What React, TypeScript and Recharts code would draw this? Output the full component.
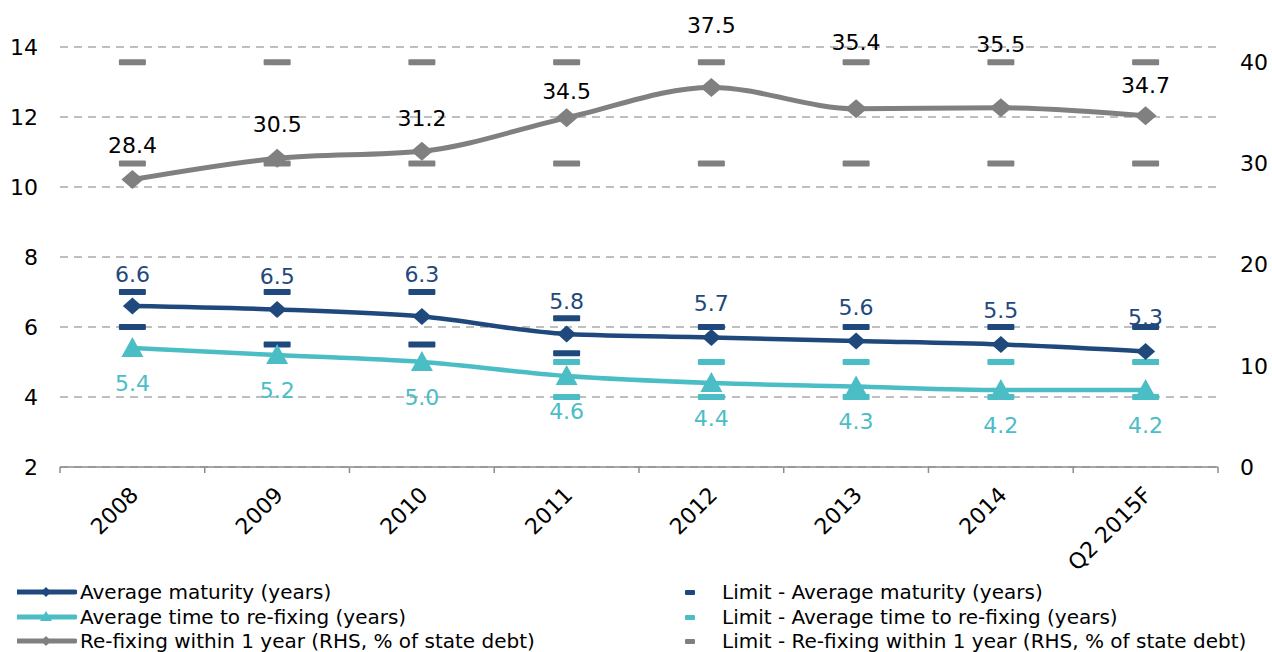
import { ComposedChart, Line, XAxis, YAxis, CartesianGrid, Legend, LabelList } from 'recharts'

const years = ['2008', '2009', '2010', '2011', '2012', '2013', '2014', 'Q2 2015F']
const avgMaturity = [6.6, 6.5, 6.3, 5.8, 5.7, 5.6, 5.5, 5.3]
const avgRefixing = [5.4, 5.2, 5.0, 4.6, 4.4, 4.3, 4.2, 4.2]
const refixWithin1y = [28.4, 30.5, 31.2, 34.5, 37.5, 35.4, 35.5, 34.7]
const maturityLimitA = [7, 7, 7, 6.25, 6, 6, 6, 6]
const maturityLimitB = [6, 5.5, 5.5, 5.25, null, null, null, null]
const refixLimitA = [null, null, null, 5, 5, 5, 5, 5]
const refixLimitB = [null, null, null, 4, 4, 4, 4, 4]
const shortLimitA = [40, 40, 40, 40, 40, 40, 40, 40]
const shortLimitB = [30, 30, 30, 30, 30, 30, 30, 30]
const leftTicks = [2, 4, 6, 8, 10, 12, 14]
const rightTicks = [0, 10, 20, 30, 40]

// label offsets (px), hand-placed like in the source
const maturityLabelDy = [-32, -33, -42, -33, -34, -34, -34, -34]
const refixLabelDy = [35, 35, 35, 35, 35, 35, 35, 35]
const shortLabelDy = [-34, -34, -33, -26, -62, -66, -63, -30]

const DARK = '#1F497D'
const TEAL = '#4BBDC5'
const GRAY = '#808080'
const AXIS = '#8C8C8C'
const FONT = '"DejaVu Sans", Verdana, sans-serif'
const HALF_BAND = 72.4

const data = years.map((year, i) => ({
  year,
  avgMaturity: avgMaturity[i],
  avgRefixing: avgRefixing[i],
  refixWithin1y: refixWithin1y[i],
  maturityLimitA: maturityLimitA[i],
  maturityLimitB: maturityLimitB[i],
  refixLimitA: refixLimitA[i],
  refixLimitB: refixLimitB[i],
  shortLimitA: shortLimitA[i],
  shortLimitB: shortLimitB[i],
}))

const dash = (color: string) => (p: any) => {
  if (p.cx == null || p.cy == null || isNaN(p.cy)) return <g key={p.index} />
  return <rect key={p.index} x={p.cx - 13.5} y={p.cy - 3} width={27} height={6} rx={1} fill={color} />
}

const diamond = (color: string, w: number, h: number) => (p: any) => {
  if (p.cx == null || p.cy == null) return <g key={p.index} />
  const { cx, cy } = p
  return <path key={p.index} d={`M${cx - w} ${cy}L${cx} ${cy - h}L${cx + w} ${cy}L${cx} ${cy + h}Z`} fill={color} />
}

const triangle = (color: string) => (p: any) => {
  if (p.cx == null || p.cy == null) return <g key={p.index} />
  const { cx, cy } = p
  return <path key={p.index} d={`M${cx} ${cy - 11}L${cx + 11} ${cy + 9}L${cx - 11} ${cy + 9}Z`} fill={color} />
}

const pointLabel = (color: string, offsets: number[]) => (p: any) => (
  <text
    key={p.index}
    x={p.x}
    y={p.y + offsets[p.index]}
    fill={color}
    textAnchor="middle"
    dominantBaseline="central"
    fontSize={22}
    fontFamily={FONT}
  >
    {Number(p.value).toFixed(1)}
  </text>
)

const XTick = (p: any) => {
  const { x, y, payload, index } = p
  const ax = x + 2
  const ay = y + 24
  return (
    <g>
      <line x1={x - HALF_BAND} x2={x - HALF_BAND} y1={y} y2={y + 6} stroke={AXIS} strokeWidth={1.5} />
      {index === years.length - 1 && <line x1={x + HALF_BAND} x2={x + HALF_BAND} y1={y} y2={y + 6} stroke={AXIS} strokeWidth={1.5} />}
      <text
        x={ax}
        y={ay}
        transform={`rotate(-45, ${ax}, ${ay})`}
        textAnchor="end"
        dominantBaseline="central"
        fontSize={22}
        fontFamily={FONT}
        fill="#000"
      >
        {payload.value}
      </text>
    </g>
  )
}

const lineItems = [
  { name: 'Average maturity (years)', color: DARK, shape: 'diamond' },
  { name: 'Average time to re-fixing (years)', color: TEAL, shape: 'triangle' },
  { name: 'Re-fixing within 1 year (RHS, % of state debt)', color: GRAY, shape: 'diamond' },
]
const limitItems = [
  { name: 'Limit - Average maturity (years)', color: DARK },
  { name: 'Limit - Average time to re-fixing (years)', color: TEAL },
  { name: 'Limit - Re-fixing within 1 year (RHS, % of state debt)', color: GRAY },
]

function LegendBox() {
  return (
    <div style={{ position: 'relative', width: 1272, height: 74, fontFamily: FONT, fontSize: 20, color: '#000' }}>
      {lineItems.map((it, i) => (
        <div key={it.name} style={{ position: 'absolute', left: 17, top: 2 + i * 24.5, height: 24, display: 'flex', alignItems: 'center', whiteSpace: 'nowrap' }}>
          <svg width={60} height={24}>
            <line x1={0} x2={58} y1={12} y2={12} stroke={it.color} strokeWidth={5} strokeLinecap="round" />
            {it.shape === 'diamond' ? (
              <path d="M24 12L29 7L34 12L29 17Z" fill={it.color} />
            ) : (
              <path d="M29 6L35 16L23 16Z" fill={it.color} />
            )}
          </svg>
          <span style={{ marginLeft: 3 }}>{it.name}</span>
        </div>
      ))}
      {limitItems.map((it, i) => (
        <div key={it.name} style={{ position: 'absolute', left: 685, top: 2 + i * 24.5, height: 24, display: 'flex', alignItems: 'center', whiteSpace: 'nowrap' }}>
          <svg width={37} height={24}>
            <rect x={0} y={10} width={10} height={5} rx={1} fill={it.color} />
          </svg>
          <span>{it.name}</span>
        </div>
      ))}
    </div>
  )
}

export default function App() {
  return (
    <div style={{ width: 1272, height: 652, overflow: 'hidden', background: '#fff' }}>
      <style>{'body{margin:0}'}</style>
      <ComposedChart width={1272} height={652} data={data} margin={{ top: 47, right: 0, bottom: 0, left: 0 }}>
        <CartesianGrid yAxisId="left" vertical={false} horizontal stroke="#BFBFBF" strokeWidth={2} strokeDasharray="8 6" />
        <XAxis
          dataKey="year"
          height={111}
          padding={{ left: HALF_BAND, right: HALF_BAND }}
          tick={<XTick />}
          tickLine={false}
          tickSize={0}
          tickMargin={0}
          interval={0}
          axisLine={{ stroke: AXIS, strokeWidth: 1.5 }}
        />
        <YAxis
          yAxisId="left"
          domain={[2, 14]}
          ticks={leftTicks}
          width={60}
          axisLine={false}
          tickLine={false}
          tickSize={0}
          tickMargin={22}
          tick={{ fontSize: 22, fontFamily: FONT, fill: '#000' }}
          interval={0}
        />
        <YAxis
          yAxisId="right"
          orientation="right"
          domain={[0, 41.5]}
          ticks={rightTicks}
          width={54}
          axisLine={false}
          tickLine={false}
          tickSize={0}
          tickMargin={22}
          tick={{ fontSize: 22, fontFamily: FONT, fill: '#000', textAnchor: 'start' }}
          interval={0}
        />
        <Legend verticalAlign="bottom" content={<LegendBox />} wrapperStyle={{ left: 0, bottom: 0, width: 1272 }} />

        <Line yAxisId="right" dataKey="shortLimitA" name="Limit - Re-fixing within 1 year (RHS, % of state debt)" stroke="none" dot={dash(GRAY)} activeDot={false} isAnimationActive={false} />
        <Line yAxisId="right" dataKey="shortLimitB" name="Limit - Re-fixing within 1 year (RHS, % of state debt) low" stroke="none" dot={dash(GRAY)} activeDot={false} isAnimationActive={false} />
        <Line yAxisId="left" dataKey="maturityLimitA" name="Limit - Average maturity (years)" stroke="none" dot={dash(DARK)} activeDot={false} isAnimationActive={false} />
        <Line yAxisId="left" dataKey="maturityLimitB" name="Limit - Average maturity (years) low" stroke="none" dot={dash(DARK)} activeDot={false} isAnimationActive={false} />
        <Line yAxisId="left" dataKey="refixLimitA" name="Limit - Average time to re-fixing (years)" stroke="none" dot={dash(TEAL)} activeDot={false} isAnimationActive={false} />
        <Line yAxisId="left" dataKey="refixLimitB" name="Limit - Average time to re-fixing (years) low" stroke="none" dot={dash(TEAL)} activeDot={false} isAnimationActive={false} />

        <Line yAxisId="right" type="monotone" dataKey="refixWithin1y" name="Re-fixing within 1 year (RHS, % of state debt)" stroke={GRAY} strokeWidth={5} dot={diamond(GRAY, 11, 9.5)} activeDot={false} isAnimationActive={false}>
          <LabelList dataKey="refixWithin1y" content={pointLabel('#000', shortLabelDy)} />
        </Line>
        <Line yAxisId="left" type="monotone" dataKey="avgRefixing" name="Average time to re-fixing (years)" stroke={TEAL} strokeWidth={4.5} dot={triangle(TEAL)} activeDot={false} isAnimationActive={false}>
          <LabelList dataKey="avgRefixing" content={pointLabel(TEAL, refixLabelDy)} />
        </Line>
        <Line yAxisId="left" type="monotone" dataKey="avgMaturity" name="Average maturity (years)" stroke={DARK} strokeWidth={4.5} dot={diamond(DARK, 9.5, 8.5)} activeDot={false} isAnimationActive={false}>
          <LabelList dataKey="avgMaturity" content={pointLabel(DARK, maturityLabelDy)} />
        </Line>
      </ComposedChart>
    </div>
  )
}
